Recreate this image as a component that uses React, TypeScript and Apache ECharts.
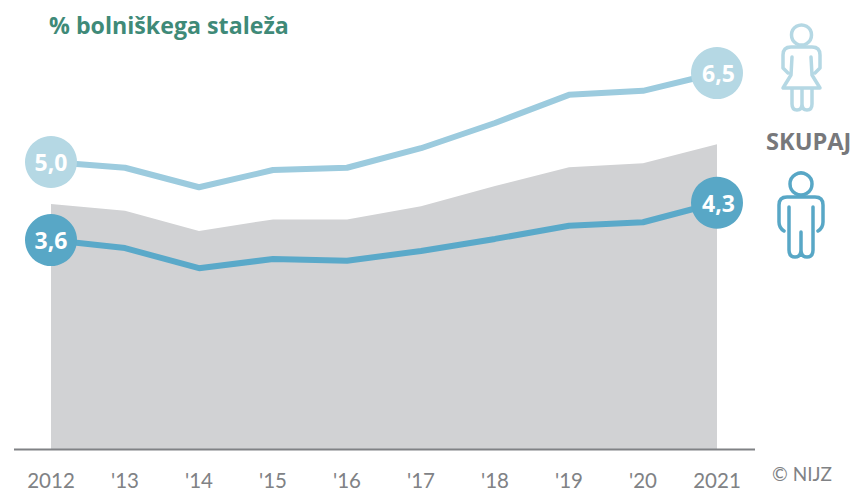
import React, { useEffect, useRef } from "react";
import * as echarts from "echarts";

const years = ["2012", "'13", "'14", "'15", "'16", "'17", "'18", "'19", "'20", "2021"];
const women = [5.0, 4.9, 4.56, 4.86, 4.9, 5.24, 5.68, 6.17, 6.24, 6.55];
const men = [3.64, 3.5, 3.15, 3.31, 3.28, 3.45, 3.66, 3.89, 3.95, 4.29];
const total = [4.27, 4.15, 3.8, 4.0, 4.0, 4.23, 4.58, 4.91, 4.98, 5.31];
const womenEnds = ["5,0", "6,5"];
const menEnds = ["3,6", "4,3"];

const FONT = '"Open Sans"';
const LIGHT = "#b5d8e4";
const DARK = "#58a7c6";
const LIGHT_LINE = "#9ccbde";
const DARK_LINE = "#5aa9c9";

const womanBody =
  "M48,73 L43,68 L43,55 Q43,47 51,47 L72,47 Q80,47 80,55 L80,68 L75,73 M52,57 L51,75 L43,88 L80,88 L72,75 L71,57 M52,88 L52,104 Q52,110 57,110 Q62,110 62,104 L62,88 M62,104 Q62,110 67,110 Q72,110 72,104 L72,88";
const manBody =
  "M49,207 L49,250 Q49,257 55,257 Q61,257 61,250 L61,232 M61,250 Q61,257 67,257 Q73,257 73,250 L73,207 M44,231 Q39,228 39,222 L39,205 Q39,197 47,197 L75,197 Q83,197 83,205 L83,222 Q83,228 78,231";
echarts.graphic.registerShape("womanBody", echarts.graphic.extendPath(womanBody, {}));
echarts.graphic.registerShape("manBody", echarts.graphic.extendPath(manBody, {}));

function ends(values: number[], texts: string[], color: string) {
  return {
    type: "scatter",
    symbol: "circle",
    symbolSize: 52,
    z: 5,
    itemStyle: { color, opacity: 1 },
    label: {
      show: true,
      position: "inside",
      color: "#fff",
      fontFamily: FONT,
      fontWeight: "bold",
      fontSize: 23,
      formatter: (p: any) => (p.dataIndex === 0 ? texts[0] : texts[1]),
    },
    data: [
      { value: [0, values[0]] },
      { value: [values.length - 1, values[values.length - 1]], label: { offset: [1.5, 0] } },
    ],
  };
}

export default function App() {
  const ref = useRef<HTMLDivElement>(null);
  useEffect(() => {
    document.body.style.margin = "0";
    const chart = echarts.init(ref.current!, undefined, { renderer: "svg" });
    chart.setOption({
      animation: false,
      backgroundColor: "#fff",
      grid: { left: 51, right: 135, top: 47.2, bottom: 43 },
      xAxis: {
        type: "category",
        boundaryGap: false,
        data: years,
        axisLine: { show: false },
        axisTick: { show: false },
        axisLabel: { color: "#808285", fontFamily: "Lato", fontSize: 20.5, lineHeight: 16, margin: 23, interval: 0 },
      },
      yAxis: { type: "value", min: 0, max: 7, show: false },
      series: [
        {
          type: "line",
          data: total,
          symbol: "none",
          lineStyle: { width: 0 },
          areaStyle: { color: "#d1d2d4", opacity: 1 },
          z: 1,
        },
        { type: "line", data: women, symbol: "none", lineStyle: { color: LIGHT_LINE, width: 6 }, z: 3 },
        { type: "line", data: men, symbol: "none", lineStyle: { color: DARK_LINE, width: 6 }, z: 3 },
        ends(women, womenEnds, LIGHT),
        ends(men, menEnds, DARK),
      ],
      graphic: [
        { type: "line", z: 10, shape: { x1: 14, y1: 449.5, x2: 755, y2: 449.5 }, style: { stroke: "#808285", lineWidth: 2 } },
        {
          type: "text",
          x: 49,
          y: 25,
          style: { text: "% bolniškega staleža", fill: "#3f8a78", font: `bold 23.2px ${FONT}`, textVerticalAlign: "middle" },
        },
        {
          type: "text",
          x: 766,
          y: 141,
          style: { text: "SKUPAJ", fill: "#77787b", font: `bold 23.6px ${FONT}`, textVerticalAlign: "middle" },
        },
        {
          type: "text",
          x: 772,
          y: 473,
          style: { text: "© NIJZ", fill: "#808285", font: `19px Lato`, textVerticalAlign: "middle" },
        },
        { type: "circle", shape: { cx: 801.5, cy: 35, r: 10 }, style: { fill: "none", stroke: LIGHT, lineWidth: 3.5 } },
        { type: "womanBody", x: 740, y: 0, style: { fill: "none", stroke: LIGHT, lineWidth: 3.5, lineJoin: "round", lineCap: "round" } },
        { type: "circle", shape: { cx: 801, cy: 184, r: 11 }, style: { fill: "none", stroke: DARK, lineWidth: 3.5 } },
        { type: "manBody", x: 740, y: 0, style: { fill: "none", stroke: DARK, lineWidth: 3.5, lineJoin: "round", lineCap: "round" } },
      ],
    });
    return () => chart.dispose();
  }, []);
  return <div ref={ref} style={{ width: 852, height: 492 }} />;
}
